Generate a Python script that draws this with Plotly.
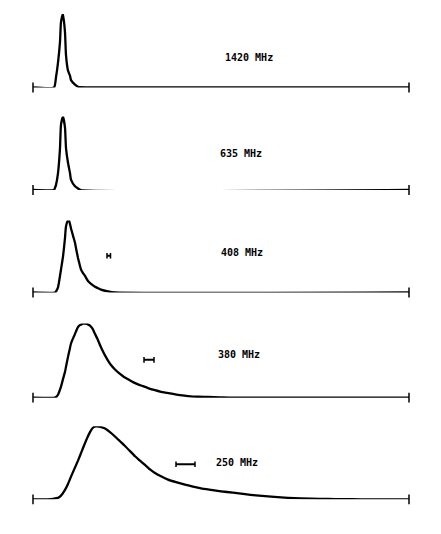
import plotly.graph_objects as go

# ---- data: pulse profiles (phase bin along the trace, intensity in % of peak) ----
freq_labels = ["1420 MHz", "635 MHz", "408 MHz", "380 MHz", "250 MHz"]

phase_1420 = [0, 21, 23, 25, 27, 28, 30, 32, 33, 35, 37, 38, 42, 45, 60, 376]
inten_1420 = [0, 0, 14, 34, 62, 89, 100, 75, 44, 23, 16, 10, 4, 1, 0, 0]

phase_635 = [0, 21, 22, 23, 25, 27, 28, 30, 32, 33, 35, 37, 38, 42, 45, 48, 376]
inten_635 = [0, 0, 3, 7, 23, 57, 89, 100, 85, 57, 37, 23, 14, 5, 2, 0, 0]

phase_408 = [0, 22, 23.5, 25, 28, 30, 32, 33, 35, 36, 38, 40, 42, 43.5, 45, 46.5, 48,
             50, 52, 55, 58, 62, 65, 68, 75, 82, 376]
inten_408 = [0, 0, 2.5, 7, 32, 50, 76, 92, 100, 100, 89, 79, 69, 58, 48, 39.5, 32,
             27, 23, 16, 12, 8, 6, 4, 1.5, 0, 0]

phase_380 = [0, 22, 23.5, 25, 26.5, 28, 30, 32, 33.5, 35, 36.5, 38, 40, 42, 43.5, 45,
             46.5, 48, 50, 52, 54, 57, 59.5, 62, 64.5, 67, 69.5, 72, 75, 78, 82, 87,
             91, 95, 100, 105, 110, 115, 121, 128, 134, 140, 147, 155, 165, 175, 187,
             200, 376]
inten_380 = [0, 0, 1.5, 4, 9, 15, 25, 35, 45, 55, 64, 73, 80, 86, 91, 95,
             97.5, 98.5, 99.7, 100, 99.5, 97, 93, 86, 79, 71, 63.5, 57, 50, 44, 38, 32,
             28, 25, 21, 18, 15.5, 13, 10.5, 8, 6.5, 5, 3.5, 2.2, 1.3, 1, 0.5,
             0, 0]

phase_250 = [0, 15, 20, 25, 28, 32, 35, 38, 41.5, 45, 48.5, 52, 54.5, 57, 58.5, 60,
             61.5, 63, 66, 69, 72, 77, 82, 87, 92, 97, 102, 107, 112, 117, 122, 128,
             135, 143, 152, 160, 168, 178, 188, 200, 212, 223, 235, 248, 262, 278,
             295, 310, 328, 376]
inten_250 = [0, 0, 0.7, 2, 5, 13, 21, 31, 42, 53, 65, 77, 85, 92, 95.5, 98,
             99.3, 100, 99.5, 98.5, 97, 92, 86, 79.5, 73, 66, 59, 53, 47, 41, 36, 31.5,
             27, 23.5, 20, 17.3, 15, 13, 11, 9, 7, 5.4, 4, 2.7, 1.5, 0.9,
             0.5, 0.2, 0, 0]

# time-resolution bars (start, end phase bin) per panel; None where absent
res_start = [None, None, 74, 111, 143]
res_end = [None, None, 77.5, 121, 162]

profiles = [(phase_1420, inten_1420), (phase_635, inten_635), (phase_408, inten_408),
            (phase_380, inten_380), (phase_250, inten_250)]

# ---- layout geometry (page pixels in a 441x534 window; body margin 8px) ----
W, H = 441, 534
OFF = 8
left_px, right_px = 33, 409
baseline_px = [87.5, 190, 292.5, 397.7, 499.3]
peak_px = [14, 116.5, 220.5, 323.5, 426.3]
label_pos = [(216, 41), (208, 50), (209, 55), (206, 58), (204, 50)]
bar_y = [None, None, 51, 51, 48]

fig = go.Figure()
for i, (ph, it) in enumerate(profiles):
    n = "" if i == 0 else str(i + 1)
    xa, ya = "x" + n, "y" + n
    fig.add_trace(go.Scatter(x=ph, y=it, xaxis=xa, yaxis=ya, mode="lines",
                             line=dict(color="black", width=2.3, shape="spline", smoothing=0.5),
                             cliponaxis=False, hoverinfo="skip", showlegend=False))
    # end ticks of the baseline
    fig.add_trace(go.Scatter(x=[ph[0], ph[-1]], y=[it[0], it[-1]], xaxis=xa, yaxis=ya,
                             mode="markers", cliponaxis=False, showlegend=False, hoverinfo="skip",
                             marker=dict(symbol="line-ns-open", size=7, color="black",
                                         line=dict(color="black", width=1.5))))
    if res_start[i] is not None:
        fig.add_trace(go.Scatter(x=[res_start[i], res_end[i]], y=[bar_y[i], bar_y[i]],
                                 xaxis=xa, yaxis=ya, mode="lines+markers", cliponaxis=False,
                                 showlegend=False, hoverinfo="skip",
                                 line=dict(color="black", width=2),
                                 marker=dict(symbol="line-ns-open", size=4, color="black",
                                             line=dict(color="black", width=1.5))))
    fig.add_annotation(x=label_pos[i][0], y=label_pos[i][1], xref=xa, yref=ya,
                       text="<b>" + freq_labels[i] + "</b>", showarrow=False,
                       font=dict(family="DejaVu Sans Mono", size=10, color="black"))
    dom = [1 - (baseline_px[i] - OFF) / H, 1 - (peak_px[i] - OFF) / H]
    ax_common = dict(visible=False, showgrid=False, zeroline=False, fixedrange=True)
    fig.update_layout(**{
        ("xaxis" + n): dict(range=[0, right_px - left_px], domain=[0, 1], anchor=ya, **ax_common),
        ("yaxis" + n): dict(range=[0, 100], domain=dom, anchor=xa, **ax_common),
    })

fig.update_layout(width=W, height=H,
                  margin=dict(l=left_px - OFF, r=W - (right_px - OFF), t=0, b=0),
                  paper_bgcolor="white", plot_bgcolor="white", showlegend=False)

fig.write_html("out.html")
